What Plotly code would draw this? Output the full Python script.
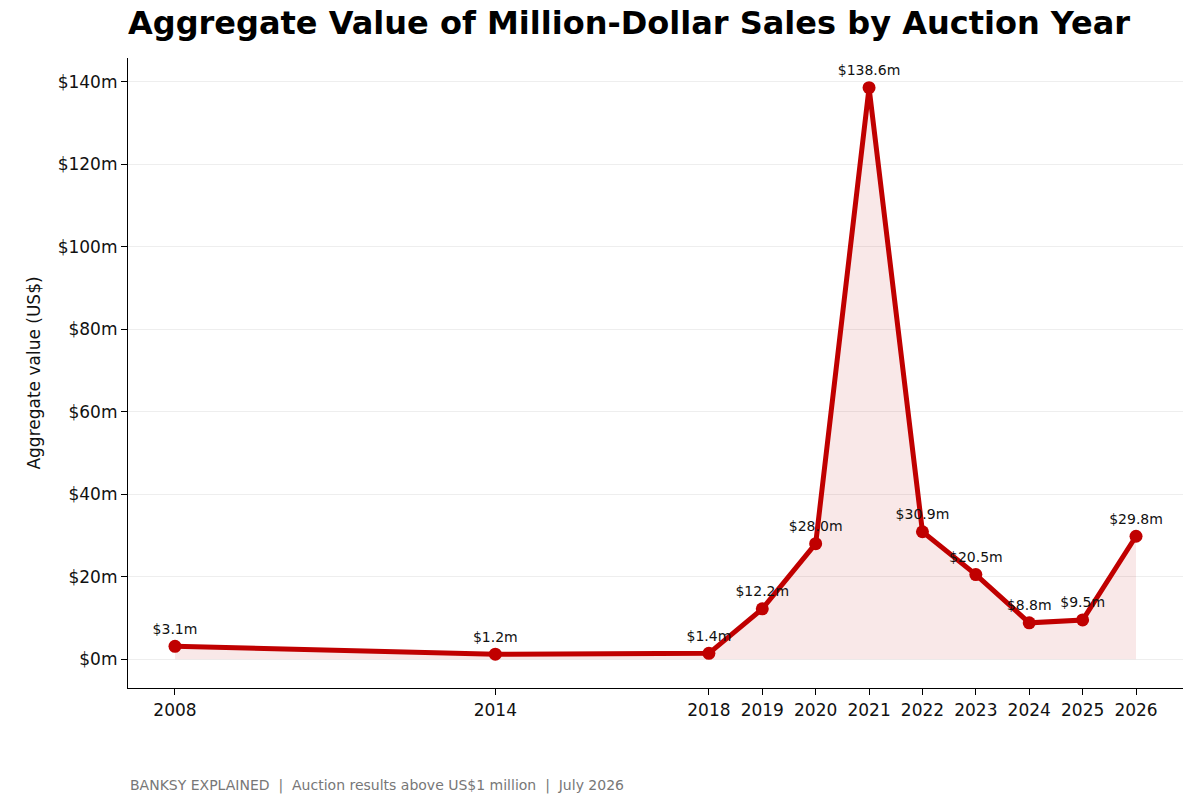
import plotly.graph_objects as go

years = [2008, 2014, 2018, 2019, 2020, 2021, 2022, 2023, 2024, 2025, 2026]
values = [3.1, 1.2, 1.4, 12.2, 28.0, 138.6, 30.9, 20.5, 8.8, 9.5, 29.8]
labels = ["$%.1fm" % v for v in values]
y_ticks = [0, 20, 40, 60, 80, 100, 120, 140]
y_tick_text = ["$%dm" % v for v in y_ticks]

red = "#c00000"
font = "DejaVu Sans"

fig = go.Figure()
fig.add_trace(go.Scatter(
    x=years, y=values, mode="lines+markers+text",
    line=dict(color=red, width=5),
    marker=dict(color=red, size=13),
    fill="tozeroy", fillcolor="rgba(192,0,0,0.09)",
    text=labels, textposition="top center",
    textfont=dict(family=font, size=14, color="#111"),
    cliponaxis=False, showlegend=False,
))

fig.update_layout(
    width=1200, height=797,
    plot_bgcolor="white", paper_bgcolor="white",
    margin=dict(l=120, r=25, t=50, b=117, autoexpand=False),
    font=dict(family=font, size=17, color="#111"),
    title=dict(text="<b>Aggregate Value of Million-Dollar Sales by Auction Year</b>",
               x=0.1, xanchor="left", y=0.995, yanchor="top",
               font=dict(size=32, color="black")),
    xaxis=dict(range=[2007.12, 2026.88], tickvals=years, showgrid=False,
               showline=True, linecolor="black", linewidth=1.2,
               ticks="outside", ticklen=6, tickcolor="black", zeroline=False),
    yaxis=dict(range=[-7, 145.8], tickvals=y_ticks, ticktext=y_tick_text,
               showgrid=True, gridcolor="#eeeeee", gridwidth=1,
               showline=True, linecolor="black", linewidth=1.2,
               ticks="outside", ticklen=6, tickcolor="black", zeroline=False,
               title=dict(text="Aggregate value (US$)", font=dict(size=17), standoff=12)),
)
fig.add_annotation(text="BANKSY EXPLAINED  |  Auction results above US$1 million  |  July 2026",
                   xref="paper", yref="paper", x=0, y=-0.155, xanchor="left", yanchor="middle",
                   showarrow=False, font=dict(size=14, color="#777"))

fig.write_html("out.html")
